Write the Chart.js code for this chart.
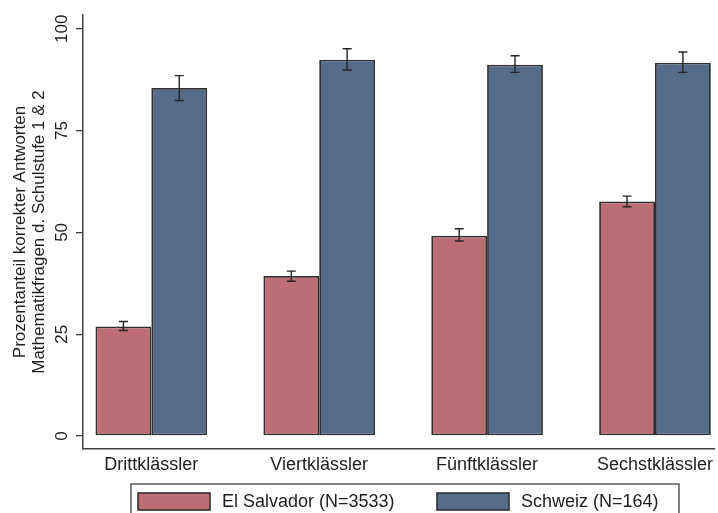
<!DOCTYPE html>
<html>
<head>
<meta charset="utf-8">
<script src="https://cdn.jsdelivr.net/npm/chart.js@4"></script>
<style>
  html, body { margin: 0; padding: 0; background: #fff; }
  #wrap { width: 718px; height: 513px; position: relative; }
</style>
</head>
<body>
<div id="wrap"><canvas id="barChart"></canvas></div>
<script>
// values
var categories = ["Drittklässler", "Viertklässler", "Fünftklässler", "Sechstklässler"];
var elSalvador = [26.9, 39.3, 49.2, 57.6];
var elSalvadorLow = [25.9, 38.0, 47.9, 56.3];
var elSalvadorHigh = [28.1, 40.5, 50.9, 58.9];
var schweiz = [85.5, 92.4, 91.2, 91.7];
var schweizLow = [82.4, 89.9, 89.3, 89.3];
var schweizHigh = [88.5, 95.1, 93.4, 94.3];
var yTicks = [0, 25, 50, 75, 100];
var seriesNames = ["El Salvador (N=3533)", "Schweiz (N=164)"];

var red = "#bc6d76";
var blue = "#546b8a";
var lineCol = "#404040";
var textCol = "#1e1e1e";

// confidence intervals on top of the bars
var errorBars = {
  id: "errorBars",
  afterDatasetsDraw: function (chart) {
    var ctx = chart.ctx;
    var y = chart.scales.y;
    var ranges = [[elSalvadorLow, elSalvadorHigh], [schweizLow, schweizHigh]];
    ctx.save();
    ctx.strokeStyle = "#262626";
    ctx.lineWidth = 1.4;
    chart.data.datasets.forEach(function (ds, i) {
      chart.getDatasetMeta(i).data.forEach(function (bar, j) {
        var top = y.getPixelForValue(ranges[i][1][j]);
        var bottom = y.getPixelForValue(ranges[i][0][j]);
        ctx.beginPath();
        ctx.moveTo(bar.x, top);
        ctx.lineTo(bar.x, bottom);
        ctx.moveTo(bar.x - 4.5, top);
        ctx.lineTo(bar.x + 4.5, top);
        ctx.moveTo(bar.x - 4.5, bottom);
        ctx.lineTo(bar.x + 4.5, bottom);
        ctx.stroke();
      });
    });
    ctx.restore();
  }
};

// Stata style boxed legend under the axis
var boxedLegend = {
  id: "boxedLegend",
  afterDraw: function (chart) {
    var ctx = chart.ctx;
    var colors = [red, blue];
    var swatchX = [138, 437];
    ctx.save();
    ctx.strokeStyle = lineCol;
    ctx.lineWidth = 1.3;
    ctx.strokeRect(131, 484, 548, 40);
    ctx.font = "18px 'Liberation Sans', Arial, sans-serif";
    ctx.textBaseline = "middle";
    seriesNames.forEach(function (name, i) {
      ctx.fillStyle = colors[i];
      ctx.fillRect(swatchX[i], 493, 72, 17);
      ctx.strokeStyle = "#303030";
      ctx.lineWidth = 1.6;
      ctx.strokeRect(swatchX[i], 493, 72, 17);
      ctx.fillStyle = textCol;
      ctx.fillText(name, swatchX[i] + 84, 502);
    });
    ctx.restore();
  }
};

var ctxBar = document.getElementById("barChart").getContext("2d");

new Chart(ctxBar, {
  type: "bar",
  data: {
    datasets: [
      {
        label: seriesNames[0],
        data: categories.map(function (c, i) { return { x: i, y: elSalvador[i] }; }),
        backgroundColor: red,
        borderColor: "#2e2e2e",
        borderWidth: 1.8,
        borderSkipped: false,
      },
      {
        label: seriesNames[1],
        data: categories.map(function (c, i) { return { x: i, y: schweiz[i] }; }),
        backgroundColor: blue,
        borderColor: "#2e2e2e",
        borderWidth: 1.8,
        borderSkipped: false,
      },
    ],
  },
  options: {
    responsive: true,
    maintainAspectRatio: false,
    animation: false,
    categoryPercentage: 0.665,
    barPercentage: 1,
    layout: { padding: { top: 15, left: 0, right: 0, bottom: 34 } },
    plugins: {
      legend: { display: false },
      tooltip: { enabled: false },
    },
    scales: {
      x: {
        type: "linear",
        offset: false,
        min: -0.407,
        max: 3.354,
        afterBuildTicks: function (s) {
          s.ticks = categories.map(function (c, i) { return { value: i }; });
        },
        afterFit: function (s) { s.height = 30; },
        grid: { display: false, drawTicks: false, tickLength: 0 },
        border: { display: true, color: lineCol, width: 1.5 },
        ticks: {
          autoSkip: false,
          maxRotation: 0,
          padding: 5,
          color: textCol,
          font: { family: "'Liberation Sans', Arial, sans-serif", size: 18 },
          callback: function (value) { return categories[value]; },
        },
      },
      y: {
        min: -3.2,
        max: 103.4,
        afterBuildTicks: function (s) {
          s.ticks = yTicks.map(function (v) { return { value: v }; });
        },
        afterFit: function (s) { s.width = 83; },
        grid: {
          display: true,
          drawOnChartArea: false,
          drawTicks: true,
          tickLength: 7,
          color: lineCol,
          lineWidth: 1.3,
        },
        border: { display: true, color: lineCol, width: 1.5 },
        ticks: {
          minRotation: 90,
          maxRotation: 90,
          crossAlign: "center",
          padding: 0,
          color: textCol,
          font: { family: "'Liberation Sans', Arial, sans-serif", size: 17 },
        },
        title: {
          display: true,
          text: ["Prozentanteil korrekter Antworten", "Mathematikfragen d. Schulstufe 1 & 2"],
          color: textCol,
          font: { family: "'Liberation Sans', Arial, sans-serif", size: 17, lineHeight: 1.1 },
          padding: { top: 11, bottom: 0 },
        },
      },
    },
  },
  plugins: [errorBars, boxedLegend],
});
</script>
</body>
</html>
